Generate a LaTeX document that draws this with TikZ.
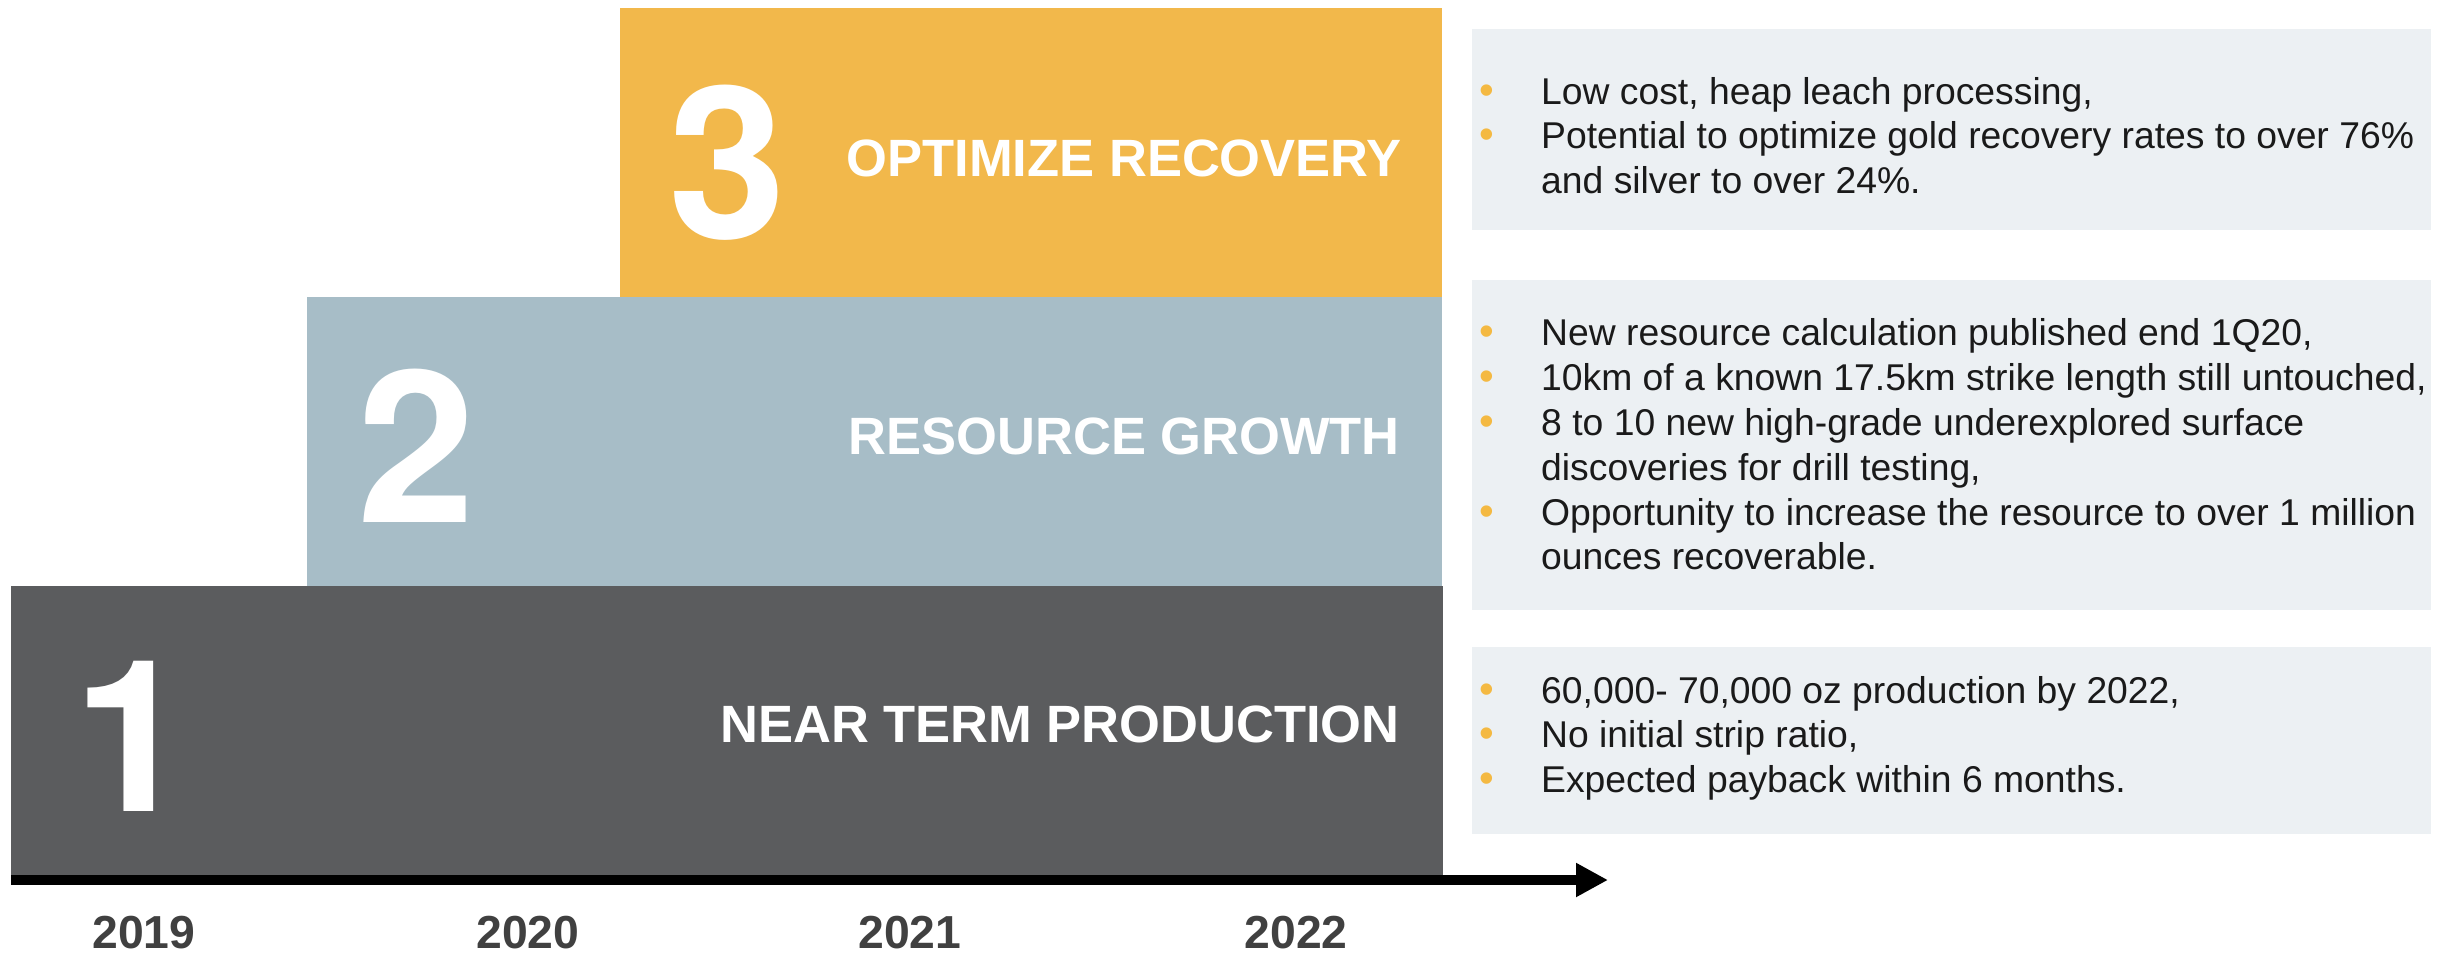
\documentclass[tikz,border=0pt]{standalone}
\usepackage{fontspec}
\setmainfont{Liberation Sans}
\newfontfamily\numfont{TeX Gyre Heros}
\usetikzlibrary{arrows.meta}
\definecolor{cOrange}{HTML}{F2B84B}
\definecolor{cBlue}{HTML}{A7BDC7}
\definecolor{cDark}{HTML}{5B5C5E}
\definecolor{cPanel}{HTML}{ECF0F3}
\definecolor{cYear}{HTML}{404040}
\definecolor{cBullet}{HTML}{F4B942}
\definecolor{cText}{HTML}{1A1A1A}
\newcommand{\bul}{{\fontsize{42}{42}\selectfont\textcolor{cBullet}{•}}}
\begin{document}
\begin{tikzpicture}[x=1pt,y=-1pt,
  stagebox/.style={anchor=north west, inner sep=0pt, outer sep=0pt, draw=none},
  panelbox/.style={anchor=north west, inner sep=0pt, outer sep=0pt, draw=none, fill=cPanel, minimum width=959pt},
  numsty/.style={inner sep=0pt, text=white, font=\numfont\fontsize{212}{212}\selectfont\bfseries},
  titlesty/.style={anchor=east, inner sep=0pt, text=white, font=\fontsize{52.5}{60}\selectfont\bfseries},
  yearsty/.style={inner sep=0pt, text=cYear, font=\fontsize{46.3}{50}\selectfont\bfseries},
  liststy/.style={anchor=west, inner sep=0pt, text=cText, align=left, font=\fontsize{37.3}{44.8}\selectfont}
]
\useasboundingbox (0,0) rectangle (2450,955);
\fill[white] (0,0) rectangle (2450,955);

% stage boxes
\node[stagebox, fill=cOrange, minimum width=822pt, minimum height=289pt] (b3) at (620,8) {};
\node[stagebox, fill=cBlue, minimum width=1135pt, minimum height=289pt] (b2) at (307,297) {};
\node[stagebox, fill=cDark, minimum width=1432pt, minimum height=289pt] (b1) at (11,586) {};

% numerals
\node[numsty] (n3) at (727,163) {3};
\node[numsty] (n2) at (416,446) {2};
\node[numsty] (n1) at (132,736) {1};

% titles
\node[titlesty] (h3) at (1402,158) {OPTIMIZE RECOVERY};
\node[titlesty] (h2) at (1400,436) {RESOURCE GROWTH};
\node[titlesty] (h1) at (1400,724) {NEAR TERM PRODUCTION};

% panels
\node[panelbox, minimum height=201pt] (p3) at (1472,29) {};
\node[panelbox, minimum height=330pt] (p2) at (1472,280) {};
\node[panelbox, minimum height=187pt] (p1) at (1472,647) {};

\node[liststy] (t3) at (1479,140) {\begin{tabular}{@{}p{62pt}@{}l@{}}
\bul & Low cost, heap leach processing,\\
\bul & Potential to optimize gold recovery rates to over 76\%\\
 & and silver to over 24\%.
\end{tabular}};
\node[liststy] (t2) at (1479,449) {\begin{tabular}{@{}p{62pt}@{}l@{}}
\bul & New resource calculation published end 1Q20,\\
\bul & 10km of a known 17.5km strike length still untouched,\\
\bul & 8 to 10 new high-grade underexplored surface\\
 & discoveries for drill testing,\\
\bul & Opportunity to increase the resource to over 1 million\\
 & ounces recoverable.
\end{tabular}};
\node[liststy] (t1) at (1479,739) {\begin{tabular}{@{}p{62pt}@{}l@{}}
\bul & 60,000- 70,000 oz production by 2022,\\
\bul & No initial strip ratio,\\
\bul & Expected payback within 6 months.
\end{tabular}};

% time axis
\coordinate (ax0) at (11,880);
\coordinate (ax1) at (1608,880);
\draw[line width=10pt, -{Triangle[length=32pt,width=32pt]}] (ax0) -- (ax1);

% years
\node[yearsty] (y19) at (144,933) {2019};
\node[yearsty] (y20) at (528,933) {2020};
\node[yearsty] (y21) at (910,933) {2021};
\node[yearsty] (y22) at (1296,933) {2022};
\end{tikzpicture}
\end{document}
